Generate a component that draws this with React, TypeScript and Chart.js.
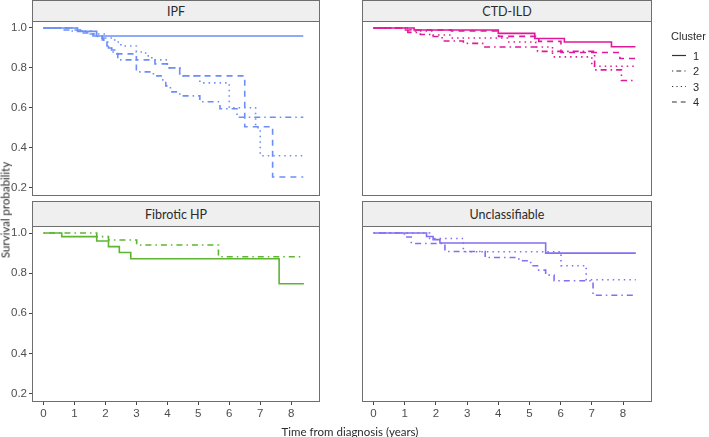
import React, { useEffect, useRef } from 'react';
import { Chart, registerables } from 'chart.js';

Chart.register(...registerables);

// ---------- data ----------
const xTicks = [0, 1, 2, 3, 4, 5, 6, 7, 8];
const yTicks = [0.2, 0.4, 0.6, 0.8, 1.0];
const clusterLabels = ['1', '2', '3', '4'];
const panelTitles = ['IPF', 'CTD-ILD', 'Fibrotic HP', 'Unclassifiable'];
const legendTitle = 'Cluster';
const xTitle = 'Time from diagnosis (years)';
const yTitle = 'Survival probability';

// IPF
const ipf1T = [0, 1.1, 1.72, 8.39];
const ipf1S = [1, 0.983, 0.96, 0.96];
const ipf2T = [0, 0.9, 1.4, 1.75, 1.95, 2.1, 2.25, 2.4, 3.0, 3.55, 3.8, 3.95, 4.1, 4.4, 5.05, 5.7, 6.25, 8.39];
const ipf2S = [1, 0.985, 0.97, 0.95, 0.93, 0.9, 0.87, 0.84, 0.78, 0.76, 0.74, 0.71, 0.68, 0.66, 0.63, 0.595, 0.553, 0.553];
const ipf3T = [0, 1.2, 1.6, 2.0, 2.3, 2.5, 3.0, 3.3, 3.5, 4.0, 4.4, 5.05, 6.0, 6.85, 7.0, 8.39];
const ipf3S = [1, 0.985, 0.97, 0.95, 0.93, 0.91, 0.88, 0.86, 0.84, 0.8, 0.76, 0.725, 0.6, 0.5, 0.36, 0.36];
const ipf4T = [0, 0.55, 1.2, 1.6, 1.9, 2.05, 2.2, 2.4, 3.0, 3.6, 4.0, 4.4, 6.5, 7.4, 8.39];
const ipf4S = [1, 0.99, 0.975, 0.96, 0.94, 0.91, 0.89, 0.87, 0.84, 0.82, 0.8, 0.76, 0.505, 0.253, 0.253];

// CTD-ILD
const ctd1T = [0, 1.3, 4.0, 5.17, 6.12, 7.63, 8.4];
const ctd1S = [1, 0.99, 0.973, 0.947, 0.93, 0.906, 0.906];
const ctd2T = [0, 1.1, 1.5, 1.85, 2.2, 2.88, 3.5, 5.26, 7.09, 7.95, 8.4];
const ctd2S = [1, 0.978, 0.967, 0.957, 0.935, 0.923, 0.905, 0.883, 0.79, 0.737, 0.737];
const ctd3T = [0, 1.2, 1.9, 2.5, 4.3, 5.2, 5.74, 7.0, 8.4];
const ctd3S = [1, 0.985, 0.965, 0.95, 0.93, 0.905, 0.855, 0.808, 0.808];
const ctd4T = [0, 0.9, 2.5, 4.01, 5.3, 6.01, 7.9, 8.4];
const ctd4S = [1, 0.99, 0.985, 0.958, 0.933, 0.877, 0.847, 0.847];

// Fibrotic HP
const hp1T = [0, 0.59, 1.72, 2.1, 2.45, 2.82, 7.61, 8.41];
const hp1S = [1, 0.982, 0.96, 0.932, 0.903, 0.872, 0.747, 0.747];
const hp2T = [0, 1.72, 2.1, 3.01, 5.65, 8.41];
const hp2S = [1, 0.982, 0.965, 0.94, 0.882, 0.882];

// Unclassifiable
const unc1T = [0, 1.7, 1.91, 2.13, 5.52, 8.41];
const unc1S = [1, 0.983, 0.967, 0.95, 0.9, 0.9];
const unc2T = [0, 0.99, 1.21, 2.29, 3.58, 4.66, 5.04, 5.26, 5.52, 5.79, 7.04, 8.41];
const unc2S = [1, 0.98, 0.948, 0.908, 0.878, 0.862, 0.837, 0.815, 0.79, 0.762, 0.69, 0.69];
const unc3T = [0, 1.8, 2.88, 6.01, 6.82, 8.41];
const unc3S = [1, 0.973, 0.907, 0.837, 0.767, 0.767];

// ---------- styles ----------
const W = 709;
const H = 437;
const X_MIN = -0.37;
const X_MAX = 8.93;
const Y_MIN = 0.158;
const Y_MAX = 1.035;
const panelColors = ['#6b8ef7', '#e0199b', '#5db532', '#866ef4'];
const dashes: Record<string, number[]> = {
  '1': [],
  '2': [1.5, 4, 6, 4],
  '3': [1.5, 4],
  '4': [6, 5],
};
const tickFont = { family: '"Liberation Sans", Arial, sans-serif', size: 11.5 };
const tickColor = '#4d4d4d';
const titleFont = 'Lato, "Open Sans", sans-serif';
const textColor = '#2b2b2b';

type Series = { cluster: string; t: number[]; s: number[] };
type Panel = {
  title: string;
  color: string;
  L: number; R: number; T: number; B: number;
  stripTop: number;
  showX: boolean;
  showY: boolean;
  series: Series[];
};

const panels: Panel[] = [
  {
    title: panelTitles[0], color: panelColors[0], L: 32, R: 320, T: 21, B: 196, stripTop: 0, showX: false, showY: true,
    series: [
      { cluster: '1', t: ipf1T, s: ipf1S },
      { cluster: '2', t: ipf2T, s: ipf2S },
      { cluster: '3', t: ipf3T, s: ipf3S },
      { cluster: '4', t: ipf4T, s: ipf4S },
    ],
  },
  {
    title: panelTitles[1], color: panelColors[1], L: 362, R: 652, T: 21, B: 196, stripTop: 0, showX: false, showY: false,
    series: [
      { cluster: '1', t: ctd1T, s: ctd1S },
      { cluster: '2', t: ctd2T, s: ctd2S },
      { cluster: '3', t: ctd3T, s: ctd3S },
      { cluster: '4', t: ctd4T, s: ctd4S },
    ],
  },
  {
    title: panelTitles[2], color: panelColors[2], L: 32, R: 320, T: 226, B: 402, stripTop: 201, showX: true, showY: true,
    series: [
      { cluster: '1', t: hp1T, s: hp1S },
      { cluster: '2', t: hp2T, s: hp2S },
    ],
  },
  {
    title: panelTitles[3], color: panelColors[3], L: 362, R: 652, T: 226, B: 402, stripTop: 201, showX: true, showY: false,
    series: [
      { cluster: '1', t: unc1T, s: unc1S },
      { cluster: '2', t: unc2T, s: unc2S },
      { cluster: '3', t: unc3T, s: unc3S },
    ],
  },
];

const borderPlugin = {
  id: 'panelBorder',
  afterDraw(chart: any) {
    const { ctx, chartArea } = chart;
    ctx.save();
    ctx.strokeStyle = '#6e6e6e';
    ctx.lineWidth = 1;
    ctx.strokeRect(
      Math.round(chartArea.left) + 0.5,
      Math.round(chartArea.top) + 0.5,
      Math.round(chartArea.right - chartArea.left) - 1,
      Math.round(chartArea.bottom - chartArea.top) - 1
    );
    ctx.restore();
  },
};

function PanelChart({ p }: { p: Panel }) {
  const ref = useRef<HTMLCanvasElement | null>(null);
  useEffect(() => {
    if (!ref.current) return;
    const yW = p.showY ? 32 : 0;
    const xH = p.showX ? 24 : 0;
    const chart = new Chart(ref.current, {
      type: 'line',
      data: {
        datasets: p.series.map((s) => ({
          label: s.cluster,
          data: s.t.map((t, i) => ({ x: t, y: s.s[i] })),
          borderColor: p.color,
          backgroundColor: p.color,
          borderWidth: 1.6,
          borderDash: dashes[s.cluster],
          pointRadius: 0,
          stepped: 'before',
          fill: false,
        })),
      },
      options: {
        animation: false,
        responsive: false,
        events: [],
        layout: {
          padding: { left: p.L - yW, top: p.T, right: W - p.R, bottom: H - p.B - xH },
        },
        plugins: { legend: { display: false }, tooltip: { enabled: false } },
        scales: {
          x: {
            type: 'linear',
            min: X_MIN,
            max: X_MAX,
            afterBuildTicks: (s: any) => { s.ticks = xTicks.map((v) => ({ value: v })); },
            afterFit: (s: any) => { s.height = xH; },
            ticks: {
              display: p.showX,
              color: tickColor,
              font: tickFont,
              padding: 2,
              maxRotation: 0,
              callback: (v: any) => String(v),
            },
            grid: { display: p.showX, drawOnChartArea: false, drawTicks: true, tickLength: 3, color: '#444' },
            border: { display: false },
          },
          y: {
            type: 'linear',
            min: Y_MIN,
            max: Y_MAX,
            afterBuildTicks: (s: any) => { s.ticks = yTicks.map((v) => ({ value: v })); },
            afterFit: (s: any) => { s.width = yW; },
            ticks: {
              display: p.showY,
              color: tickColor,
              font: tickFont,
              padding: 2,
              callback: (v: any) => Number(v).toFixed(1),
            },
            grid: { display: p.showY, drawOnChartArea: false, drawTicks: true, tickLength: 3, color: '#444' },
            border: { display: false },
          },
        },
      },
      plugins: [borderPlugin],
    } as any);
    return () => chart.destroy();
  }, [p]);
  return (
    <canvas
      ref={ref}
      width={W}
      height={H}
      style={{ position: 'absolute', left: 0, top: 0, width: W, height: H }}
    />
  );
}

export default function App() {
  return (
    <div
      style={{
        position: 'fixed', left: 0, top: 0, width: W, height: H,
        background: '#fff', overflow: 'hidden', fontFamily: titleFont,
      }}
    >
      {panels.map((p, i) => (
        <div
          key={'strip' + i}
          style={{
            position: 'absolute', left: p.L, top: p.stripTop, width: p.R - p.L, height: p.T - p.stripTop + 1,
            boxSizing: 'border-box', background: '#efefef', border: '1px solid #6e6e6e',
            display: 'flex', alignItems: 'center', justifyContent: 'center',
            fontSize: 12.5, color: textColor, fontWeight: 400,
          }}
        >
          {p.title}
        </div>
      ))}
      {panels.map((p, i) => (
        <PanelChart key={'chart' + i} p={p} />
      ))}
      <div
        style={{
          position: 'absolute', left: 5, top: 210, transform: 'translate(-50%, -50%) rotate(-90deg)',
          whiteSpace: 'nowrap', fontSize: 11.5, color: textColor, fontWeight: 400,
        }}
      >
        {yTitle}
      </div>
      <div
        style={{
          position: 'absolute', left: 350, top: 431, transform: 'translate(-50%, -50%)',
          whiteSpace: 'nowrap', fontSize: 11.5, color: textColor, fontWeight: 400,
        }}
      >
        {xTitle}
      </div>
      <div
        style={{
          position: 'absolute', left: 671, top: 36, transform: 'translateY(-50%)',
          fontFamily: '"Liberation Sans", Arial, sans-serif', fontSize: 11, color: textColor,
          whiteSpace: 'nowrap',
        }}
      >
        {legendTitle}
      </div>
      <svg width={W} height={H} style={{ position: 'absolute', left: 0, top: 0 }}>
        {clusterLabels.map((c, i) => (
          <g key={c}>
            <line
              x1={672} x2={686} y1={55.5 + i * 15.5} y2={55.5 + i * 15.5}
              stroke="#333" strokeWidth={1.2}
              strokeDasharray={dashes[c].length ? dashes[c].map((d) => d * 0.8).join(' ') : undefined}
            />
            <text
              x={693} y={55.5 + i * 15.5} dominantBaseline="central"
              fontFamily='"Liberation Sans", Arial, sans-serif' fontSize={11} fill={textColor}
            >
              {c}
            </text>
          </g>
        ))}
      </svg>
    </div>
  );
}
